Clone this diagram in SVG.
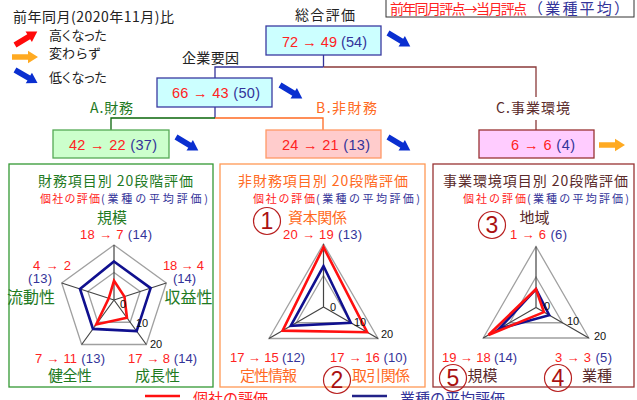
<svg xmlns="http://www.w3.org/2000/svg" xmlns:xlink="http://www.w3.org/1999/xlink" width="637" height="400" viewBox="0 0 637 400">
<style>
text{font-family:"Liberation Sans","Noto Sans CJK JP",sans-serif;}
.jp{font-family:"Noto Sans CJK JP","Liberation Sans",sans-serif;}
.r{fill:#ff2222;}
.b{fill:#333399;}
.blk{fill:#222;}
.g{fill:#1f7a1f;}
.o{fill:#ff6a22;}
.m{fill:#5a2a2a;}
.val{font-size:13px;}
.box{font-size:14.5px;}
.ax{font-size:15px;}
.ttl{font-size:14px;}
.sub{font-size:11px;}
.tick{font-size:11px;fill:#111;}
.ring{fill:none;stroke:#a0a0a0;stroke-width:1.3;}
.spoke{stroke:#444;stroke-width:1.2;}
.rp{fill:none;stroke:#ff1010;stroke-width:2.6;stroke-linejoin:miter;}
.bp{fill:none;stroke:#10108f;stroke-width:2.6;stroke-linejoin:miter;}
.circ{fill:none;stroke:#b82020;stroke-width:1.2;}
.cn{font-size:23px;fill:#aa1111;}
.conn{fill:none;stroke-width:1.3;}
</style>
<defs>
<path id="arr" d="M0,-2.8 H16 V-6.2 L26,0 L16,6.2 V2.8 H0 Z"/>
</defs>

<!-- header / legend -->
<g id="legend">
<text class="jp blk" x="13" y="22" font-size="14" textLength="161">前年同月(2020年11月)比</text>
<use xlink:href="#arr" href="#arr" transform="translate(15,45) rotate(-31)" fill="#ff0a0a"/>
<use xlink:href="#arr" href="#arr" transform="translate(12,57)" fill="#ffaa22"/>
<use xlink:href="#arr" href="#arr" transform="translate(15,70) rotate(30)" fill="#0a2fd0"/>
<text class="jp blk" x="49" y="40" font-size="13" textLength="58">高くなった</text>
<text class="jp blk" x="49" y="58" font-size="13" textLength="52">変わらず</text>
<text class="jp blk" x="49" y="82" font-size="13" textLength="58">低くなった</text>
</g>

<g id="key">
<rect x="386" y="-1" width="248" height="18" fill="#fff" stroke="#333" stroke-width="1"/>
<text class="jp r" x="390" y="14" font-size="14" textLength="137">前年同月評点→当月評点</text>
<text class="jp b" x="528" y="14" font-size="15" textLength="101">（業種平均）</text>
</g>

<!-- connectors -->
<g id="connectors">
<path class="conn" stroke="#333399" d="M323.5,55 V67 M323.5,67 H215 V78 M215,107 V118"/>
<path class="conn" stroke="#8a3a3a" d="M323.5,67 H536 V97 M536,120 V130"/>
<path class="conn" stroke="#0a660a" d="M215,118 H111 V130"/>
<path class="conn" stroke="#ff6a22" d="M215,118 H323 V130"/>
</g>

<g id="total">
<text class="jp blk" x="325" y="20" font-size="14" text-anchor="middle" textLength="60">総合評価</text>
<rect x="266" y="26" width="115" height="29" fill="#ccffff" stroke="#3a3aa0" stroke-width="1.3"/>
<text class="box" x="324.5" y="47" text-anchor="middle" textLength="85"><tspan class="r">72 → 49 </tspan><tspan class="b">(54)</tspan></text>
<use xlink:href="#arr" href="#arr" transform="translate(388,33) rotate(31)" fill="#0a2fd0"/>
</g>

<g id="corporate">
<text class="jp blk" x="210.5" y="63" font-size="14" text-anchor="middle" textLength="57">企業要因</text>
<rect x="157" y="78" width="115" height="29" fill="#ccffff" stroke="#3a3aa0" stroke-width="1.3"/>
<text class="box" x="216" y="98" text-anchor="middle" textLength="88"><tspan class="r">66 → 43 </tspan><tspan class="b">(50)</tspan></text>
<use xlink:href="#arr" href="#arr" transform="translate(280,85) rotate(31)" fill="#0a2fd0"/>
</g>

<g id="financial">
<text class="jp g" x="111.5" y="113" font-size="14" text-anchor="middle" textLength="43">A.財務</text>
<rect x="53" y="130" width="116" height="28" fill="#ccffcc" stroke="#55aa55" stroke-width="1.3"/>
<text class="box" x="113" y="150" text-anchor="middle" textLength="88"><tspan class="r">42 → 22 </tspan><tspan class="b">(37)</tspan></text>
<use xlink:href="#arr" href="#arr" transform="translate(176,137) rotate(31)" fill="#0a2fd0"/>
</g>

<g id="nonfinancial">
<text class="jp o" x="346.5" y="113" font-size="14" text-anchor="middle" textLength="61">B.非財務</text>
<rect x="266" y="130" width="115" height="28" fill="#ffcccc" stroke="#ff9966" stroke-width="1.3"/>
<text class="box" x="326" y="150" text-anchor="middle" textLength="88"><tspan class="r">24 → 21 </tspan><tspan class="b">(13)</tspan></text>
<use xlink:href="#arr" href="#arr" transform="translate(388,137) rotate(31)" fill="#0a2fd0"/>
</g>

<g id="environment">
<text class="jp m" x="533" y="113" font-size="14" text-anchor="middle" textLength="74">C.事業環境</text>
<rect x="479" y="130" width="115" height="28" fill="#ffccff" stroke="#993333" stroke-width="1.3"/>
<text class="box" x="543" y="150" text-anchor="middle" textLength="64"><tspan class="r">6 → 6 </tspan><tspan class="b">(4)</tspan></text>
<use xlink:href="#arr" href="#arr" transform="translate(599,145)" fill="#ffaa22"/>
</g>

<!-- Panel A -->
<g id="panel-financial">
<rect x="9" y="164" width="204" height="223" fill="#fff" stroke="#339933" stroke-width="1.3"/>
<text class="jp g ttl" x="115.5" y="186" text-anchor="middle" textLength="155">財務項目別 20段階評価</text>
<text class="jp r sub" x="40" y="203" textLength="60">個社の評価</text>
<text class="jp b sub" x="101" y="203" textLength="107">(業種の平均評価)</text>
<polygon class="ring" points="114,245 166.31,283 146.33,344.5 81.67,344.5 61.69,283"/>
<polygon class="ring" points="114,272.5 140.16,291.5 130.16,322.25 97.84,322.25 87.84,291.5"/>
<path class="spoke" d="M114,300 L114,245 M114,300 L166.31,283 M114,300 L146.33,344.5 M114,300 L81.67,344.5 M114,300 L61.69,283"/>
<polygon class="bp" points="114,261.5 150.62,288.1 136.63,331.15 92.99,328.92 80,288.95"/>
<polygon class="rp" points="114,280.75 124.46,296.6 126.93,317.8 96.22,324.47 108.77,298.3"/>
<text class="tick" x="123" y="308" text-anchor="middle">0</text>
<text class="tick" x="142" y="327" text-anchor="middle">10</text>
<text class="tick" x="156" y="348" text-anchor="middle">20</text>
<text class="jp g ax" x="112" y="222.5" text-anchor="middle">規模</text>
<text class="val" x="116" y="239" text-anchor="middle" textLength="72"><tspan class="r">18 → 7 </tspan><tspan class="b">(14)</tspan></text>
<text class="val r" x="52" y="270" text-anchor="middle" textLength="38">4 → 2</text>
<text class="val b" x="40" y="283" text-anchor="middle" textLength="24">(13)</text>
<text class="jp g" x="31" y="302.5" font-size="16" text-anchor="middle">流動性</text>
<text class="val r" x="183.5" y="270" text-anchor="middle" textLength="41">18 → 4</text>
<text class="val b" x="184.5" y="283" text-anchor="middle" textLength="23">(14)</text>
<text class="jp g" x="188.5" y="302.5" font-size="16" text-anchor="middle">収益性</text>
<text class="val" x="70" y="363" text-anchor="middle" textLength="70"><tspan class="r">7 → 11 </tspan><tspan class="b">(13)</tspan></text>
<text class="jp g ax" x="70" y="381" text-anchor="middle" textLength="44">健全性</text>
<text class="val" x="162.5" y="363" text-anchor="middle" textLength="69"><tspan class="r">17 → 8 </tspan><tspan class="b">(14)</tspan></text>
<text class="jp g ax" x="157.5" y="381" text-anchor="middle" textLength="45">成長性</text>
</g>

<!-- Panel B -->
<g id="panel-nonfinancial">
<rect x="220" y="164" width="205" height="223" fill="#fff" stroke="#ff9955" stroke-width="1.3"/>
<text class="jp o ttl" x="323" y="186" text-anchor="middle" textLength="170">非財務項目別 20段階評価</text>
<text class="jp r sub" x="253" y="203" textLength="62">個社の評価</text>
<text class="jp b sub" x="316" y="203" textLength="104">(業種の平均評価)</text>
<polygon class="ring" points="323.5,244 378.06,338.5 268.94,338.5"/>
<polygon class="ring" points="323.5,275.5 350.78,322.75 296.22,322.75"/>
<path class="spoke" d="M323.5,307 L323.5,244 M323.5,307 L378.06,338.5 M323.5,307 L268.94,338.5"/>
<polygon class="bp" points="323.5,266.05 350.78,322.75 290.76,325.9"/>
<polygon class="rp" points="323.5,247.15 367.15,332.2 282.58,330.63"/>
<text class="tick" x="333" y="311" text-anchor="middle">0</text>
<text class="tick" x="360" y="326" text-anchor="middle">10</text>
<text class="tick" x="387" y="338" text-anchor="middle">20</text>
<circle class="circ" cx="267" cy="221" r="13.5"/>
<text class="cn" x="267" y="229" text-anchor="middle">1</text>
<text class="jp o ax" x="317.5" y="222.5" text-anchor="middle" textLength="59">資本関係</text>
<text class="val" x="322.5" y="239" text-anchor="middle" textLength="79"><tspan class="r">20 → 19 </tspan><tspan class="b">(13)</tspan></text>
<text class="val" x="267.5" y="362" text-anchor="middle" textLength="75"><tspan class="r">17 → 15 </tspan><tspan class="b">(12)</tspan></text>
<text class="val" x="368.5" y="362" text-anchor="middle" textLength="77"><tspan class="r">17 → 16 </tspan><tspan class="b">(10)</tspan></text>
<text class="jp o ax" x="268.5" y="381" text-anchor="middle" textLength="57">定性情報</text>
<text class="jp o ax" x="381" y="381" text-anchor="middle" textLength="58">取引関係</text>
<circle class="circ" cx="337" cy="380" r="13.5"/>
<text class="cn" x="337" y="388" text-anchor="middle">2</text>
</g>

<!-- Panel C -->
<g id="panel-environment">
<rect x="433" y="164" width="201" height="223" fill="#fff" stroke="#993333" stroke-width="1.3"/>
<text class="jp m ttl" x="535.5" y="186" text-anchor="middle" textLength="185">事業環境項目別 20段階評価</text>
<text class="jp r sub" x="463" y="203" textLength="63">個社の評価</text>
<text class="jp b sub" x="527" y="203" textLength="102">(業種の平均評価)</text>
<polygon class="ring" points="536,246.5 588.8,338 483.2,338"/>
<polygon class="ring" points="536,277 562.41,322.75 509.59,322.75"/>
<path class="spoke" d="M536,307.5 L536,246.5 M536,307.5 L588.8,338 M536,307.5 L483.2,338"/>
<polygon class="bp" points="536,289.2 549.21,315.13 499.02,328.85"/>
<polygon class="rp" points="536,289.2 543.92,312.08 488.46,334.95"/>
<text class="tick" x="547" y="310" text-anchor="middle">0</text>
<text class="tick" x="573" y="325" text-anchor="middle">10</text>
<text class="tick" x="600" y="340" text-anchor="middle">20</text>
<circle class="circ" cx="492" cy="225" r="13.5"/>
<text class="cn" x="492" y="233" text-anchor="middle">3</text>
<text class="jp m ax" x="534.5" y="222.5" text-anchor="middle">地域</text>
<text class="val" x="538.5" y="239" text-anchor="middle" textLength="57"><tspan class="r">1 → 6 </tspan><tspan class="b">(6)</tspan></text>
<text class="val" x="479.5" y="362" text-anchor="middle" textLength="75"><tspan class="r">19 → 18 </tspan><tspan class="b">(14)</tspan></text>
<text class="val" x="583.5" y="362" text-anchor="middle" textLength="57"><tspan class="r">3 → 3 </tspan><tspan class="b">(5)</tspan></text>
<circle class="circ" cx="453" cy="378" r="13.5"/>
<text class="cn" x="453" y="386" text-anchor="middle">5</text>
<text class="jp m ax" x="482.5" y="381" text-anchor="middle">規模</text>
<circle class="circ" cx="558" cy="378" r="13.5"/>
<text class="cn" x="558" y="386" text-anchor="middle">4</text>
<text class="jp m ax" x="597" y="381" text-anchor="middle">業種</text>
</g>

<!-- bottom legend -->
<g id="series-legend">
<line x1="145" y1="396" x2="180" y2="396" stroke="#ff1010" stroke-width="2.6"/>
<text class="jp r" x="193" y="404" font-size="15">個社の評価</text>
<line x1="352" y1="396" x2="387" y2="396" stroke="#222288" stroke-width="2.6"/>
<text class="jp b" x="400" y="404" font-size="15">業種の平均評価</text>
</g>
</svg>
